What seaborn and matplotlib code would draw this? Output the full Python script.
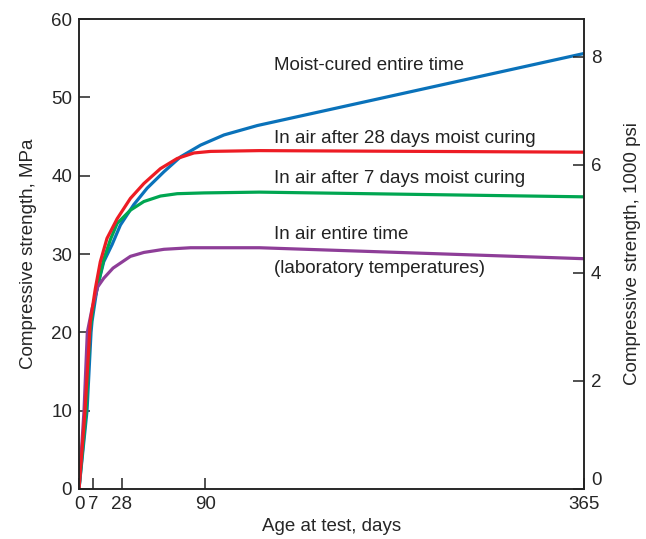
import numpy as np
import pandas as pd
import matplotlib
matplotlib.use("Agg")
import matplotlib.pyplot as plt
import seaborn as sns

sns.set_style("ticks")
plt.rcParams['font.family'] = ['Liberation Sans', 'DejaVu Sans']

# ---- data (days, MPa) ----
moist_days = [0, 2, 4, 6, 6.5, 9.9, 14.8, 20.9, 27.0, 36.9, 46.8, 59.3, 71.6, 86.5, 103.6, 127.8, 365]
moist_mpa  = [0, 5, 10, 20, 21.4, 25.6, 29.0, 31.2, 33.7, 36.3, 38.4, 40.5, 42.4, 43.9, 45.2, 46.4, 55.6]

air28_days = [0, 1.5, 3, 5.65, 8.7, 12.3, 17.2, 24.6, 34.4, 44.4, 56.7, 69.2, 81.6, 93.9, 129.3, 365]
air28_mpa  = [0, 5, 10, 21.4, 25.6, 29.0, 32.0, 34.5, 37.1, 39.0, 40.9, 42.2, 42.9, 43.1, 43.2, 43.0]

air7_days = [0, 1.8, 3.6, 5.4, 7.6, 14.8, 19.8, 24.6, 34.4, 44.4, 56.7, 69.2, 89.0, 129.3, 365]
air7_mpa  = [0, 5, 10, 20, 23.8, 29.3, 31.9, 33.9, 35.6, 36.7, 37.4, 37.7, 37.8, 37.9, 37.3]

air_days = [0, 1.25, 2.5, 4.15, 6.5, 10.4, 14.8, 21.6, 34.4, 44.4, 59.3, 79.1, 129.3, 365]
air_mpa  = [0, 5, 10, 20, 23, 25.8, 26.9, 28.2, 29.7, 30.2, 30.6, 30.8, 30.8, 29.4]

series_names = ["Moist-cured entire time",
                "In air after 28 days moist curing",
                "In air after 7 days moist curing",
                "In air entire time"]
series_colors = ["#0a72ba", "#ed1c24", "#00a651", "#8e3e98"]
draw_order = [0, 2, 3, 1]  # red drawn on top, as in the original

x_ticks = [0, 7, 28, 90, 365]
y_ticks = [0, 10, 20, 30, 40, 50, 60]
psi_ticks = [0, 2, 4, 6, 8]
MPA_TO_KSI = 0.145038

# the original drawing uses a slightly stretched (piecewise) day axis
scale_days = [-100, 0, 7, 28, 90, 365, 1000]
scale_pos  = [-200, 0, 14, 42.7, 126, 504, 1376.9]

def fwd(x):
    return np.interp(x, scale_days, scale_pos)

def inv(x):
    return np.interp(x, scale_pos, scale_days)

all_days = [moist_days, air28_days, air7_days, air_days]
all_mpa = [moist_mpa, air28_mpa, air7_mpa, air_mpa]
frames = []
for i in draw_order:
    frames.append(pd.DataFrame({"series": series_names[i], "day": all_days[i], "mpa": all_mpa[i]}))
df = pd.concat(frames, ignore_index=True)

fig = plt.figure(figsize=(6.46, 5.39), dpi=100)
ax = fig.add_axes([0.1223, 0.0928, 0.7817, 0.8719])
ax.set_xscale("function", functions=(fwd, inv))

sns.lineplot(data=df, x="day", y="mpa", hue="series",
             hue_order=[series_names[i] for i in draw_order],
             palette=dict(zip(series_names, series_colors)),
             sort=False, estimator=None, units="series", linewidth=2.3, legend=False, ax=ax)

ax.set_xlim(0, 365)
ax.set_ylim(0, 60)
ax.set_xticks(x_ticks)
ax.set_xticklabels([str(t) for t in x_ticks])
ax.minorticks_off()
ax.set_yticks(y_ticks)
ax.set_xlabel("Age at test, days", fontsize=13.5, labelpad=4)
ax.set_ylabel("Compressive strength, MPa", fontsize=13.5, labelpad=10)
ax.tick_params(axis="both", direction="in", length=8, width=1.1, labelsize=13.5, pad=5, color="#222222")
for s in ax.spines.values():
    s.set_linewidth(1.1)
    s.set_color("#222222")
    s.set_visible(True)

ax2 = ax.twinx()
ax2.set_ylim(0, 60 * MPA_TO_KSI)
ax2.set_yticks(psi_ticks)
ax2.set_ylabel("Compressive strength, 1000 psi", fontsize=13.5, labelpad=16)
ax2.tick_params(axis="y", direction="in", length=8, width=1.1, labelsize=13.5, pad=5, color="#222222")
for s in ax2.spines.values():
    s.set_linewidth(1.1)
    s.set_color("#222222")
fig.canvas.draw()
ax2.get_yticklabels()[0].set_verticalalignment("bottom")

txt_kw = dict(fontsize=13.5, color="#222222", ha="left", va="center")
ax.text(140.2, 54.1, "Moist-cured entire time", **txt_kw)
ax.text(140.2, 44.8, "In air after 28 days moist curing", **txt_kw)
ax.text(140.2, 39.7, "In air after 7 days moist curing", **txt_kw)
ax.text(140.2, 32.55, "In air entire time", **txt_kw)
ax.text(140.2, 28.2, "(laboratory temperatures)", **txt_kw)

fig.savefig("out.png", dpi=100)
